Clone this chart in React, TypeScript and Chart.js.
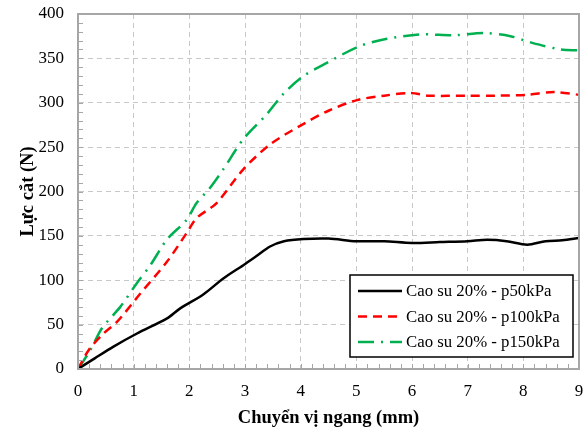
import React, { useEffect, useRef } from "react";
import { Chart, registerables } from "chart.js";

Chart.register(...registerables);

const seriesLabels = ["Cao su 20% - p50kPa", "Cao su 20% - p100kPa", "Cao su 20% - p150kPa"];

const xBlack = [0, 0.3, 0.63, 1.06, 1.6, 1.83, 2.25, 2.61, 2.97, 3.2, 3.45, 3.7, 4.05, 4.5, 5.0, 5.5, 6.0, 6.5, 7.0, 7.35, 7.7, 8.07, 8.4, 8.7, 9.0];
const yBlack = [0, 12, 25, 40, 57, 68, 84, 102, 117, 127, 138, 144, 146.5, 147, 144, 144, 142, 143, 144, 145.5, 144, 140, 144, 145, 147.5];

const xRed = [0, 0.2, 0.46, 0.7, 1.12, 1.6, 1.95, 2.13, 2.49, 2.97, 3.45, 3.99, 4.5, 5.01, 5.5, 5.97, 6.3, 7.0, 7.5, 8.07, 8.55, 9.0];
const yRed = [0, 22, 40, 53, 85, 121, 153, 170, 187, 225, 253, 274, 291, 303, 308, 311, 308, 308, 308, 309, 312, 309];

const xGreen = [0, 0.22, 0.43, 0.76, 1.06, 1.3, 1.6, 1.95, 2.13, 2.37, 2.61, 2.97, 3.39, 3.69, 4.05, 4.47, 5.07, 5.55, 6.15, 6.75, 7.29, 7.77, 8.13, 8.67, 9.0];
const yGreen = [0, 21, 46, 70, 97, 117, 146, 168, 187, 204, 225, 259, 287, 310, 330, 345, 364, 372, 377, 376, 378.5, 375, 368, 360, 359];

const xTitle = "Chuyển vị ngang (mm)";
const yTitle = "Lực cắt (N)";

const FONT = "'Liberation Serif', 'Times New Roman', serif";

const toPoints = (xs: number[], ys: number[]) => xs.map((x, i) => ({ x, y: ys[i] }));

const framePlugin = {
  id: "frameAndMinor",
  afterDatasetsDraw(chart: any) {
    const { ctx, chartArea } = chart;
    const xs = chart.scales.x;
    const ys = chart.scales.y;
    ctx.save();
    ctx.strokeStyle = "#a6a6a6";
    ctx.lineWidth = 1;
    ctx.setLineDash([]);
    ctx.beginPath();
    for (let v = 0; v <= 9.0001; v += 0.2) {
      const px = Math.round(xs.getPixelForValue(v)) + 0.5;
      ctx.moveTo(px, chartArea.bottom);
      ctx.lineTo(px, chartArea.bottom - 5);
    }
    for (let v = 0; v <= 400.0001; v += 10) {
      const py = Math.round(ys.getPixelForValue(v)) + 0.5;
      ctx.moveTo(chartArea.left, py);
      ctx.lineTo(chartArea.left + 5, py);
    }
    ctx.stroke();
    ctx.lineWidth = 2;
    ctx.strokeStyle = "#a6a6a6";
    ctx.strokeRect(chartArea.left, chartArea.top, chartArea.right - chartArea.left, chartArea.bottom - chartArea.top);
    ctx.restore();
  },
  afterDraw(chart: any) {
    const { ctx, chartArea } = chart;
    const boxW = 223;
    const boxH = 82;
    const bx = chartArea.right - 6 - boxW;
    const by = chartArea.bottom - 12 - boxH;
    ctx.save();
    ctx.fillStyle = "#ffffff";
    ctx.fillRect(bx, by, boxW, boxH);
    ctx.strokeStyle = "#000000";
    ctx.lineWidth = 1.5;
    ctx.setLineDash([]);
    ctx.strokeRect(bx, by, boxW, boxH);
    ctx.font = `16.8px ${FONT}`;
    ctx.textBaseline = "middle";
    ctx.textAlign = "left";
    chart.data.datasets.forEach((ds: any, i: number) => {
      const cy = by + 16 + i * 25.5;
      ctx.strokeStyle = ds.borderColor;
      ctx.lineWidth = ds.borderWidth;
      ctx.setLineDash(ds.borderDash || []);
      ctx.beginPath();
      ctx.moveTo(bx + 8, cy);
      ctx.lineTo(bx + 52, cy);
      ctx.stroke();
      ctx.setLineDash([]);
      ctx.fillStyle = "#000000";
      ctx.fillText(ds.label, bx + 56, cy + 1);
    });
    ctx.restore();
  },
};

export default function App() {
  const ref = useRef<HTMLCanvasElement | null>(null);
  useEffect(() => {
    document.body.style.margin = "0";
    const canvas = ref.current;
    if (!canvas) return;
    const chart = new Chart(canvas, {
      type: "line",
      data: {
        datasets: [
          {
            label: seriesLabels[0],
            data: toPoints(xBlack, yBlack),
            borderColor: "#000000",
            borderWidth: 2.5,
            pointRadius: 0,
            tension: 0.3,
            fill: false,
          },
          {
            label: seriesLabels[1],
            data: toPoints(xRed, yRed),
            borderColor: "#ff0000",
            borderWidth: 2.5,
            borderDash: [9, 6],
            pointRadius: 0,
            tension: 0.3,
            fill: false,
          },
          {
            label: seriesLabels[2],
            data: toPoints(xGreen, yGreen),
            borderColor: "#00b050",
            borderWidth: 2.5,
            borderDash: [16, 7, 2, 7],
            pointRadius: 0,
            tension: 0.3,
            fill: false,
          },
        ],
      },
      options: {
        animation: false,
        responsive: false,
        devicePixelRatio: 1,
        layout: { padding: { top: 14, right: 8, left: 0, bottom: 0 } },
        plugins: {
          legend: { display: false },
          tooltip: { enabled: false },
        },
        scales: {
          x: {
            type: "linear",
            min: 0,
            max: 9,
            afterFit(scale: any) {
              scale.height = 65;
              scale.paddingLeft = 0;
              scale.paddingRight = 0;
            },
            ticks: {
              stepSize: 1,
              padding: 12,
              color: "#000000",
              font: { family: FONT, size: 17 },
            },
            grid: {
              color: "#c8c8c8",
              drawTicks: false,
              lineWidth: 1,
            },
            border: { display: true, color: "#a6a6a6", width: 2, dash: [5, 4] },
            title: {
              display: true,
              text: xTitle,
              color: "#000000",
              font: { family: FONT, size: 18.5, weight: "bold" },
              padding: { top: 0, bottom: 5 },
            },
          },
          y: {
            type: "linear",
            min: 0,
            max: 400,
            afterFit(scale: any) {
              scale.width = 78;
              scale.paddingTop = 0;
              scale.paddingBottom = 0;
            },
            ticks: {
              stepSize: 50,
              padding: 14,
              color: "#000000",
              font: { family: FONT, size: 17 },
            },
            grid: {
              color: "#c8c8c8",
              drawTicks: false,
              lineWidth: 1,
            },
            border: { display: true, color: "#a6a6a6", width: 2, dash: [5, 4] },
            title: {
              display: true,
              text: yTitle,
              color: "#000000",
              font: { family: FONT, size: 18.5, weight: "bold" },
              padding: { top: 17, bottom: 0 },
            },
          },
        },
      },
      plugins: [framePlugin],
    });
    return () => chart.destroy();
  }, []);
  return (
    <div style={{ width: 587, height: 434 }}>
      <canvas ref={ref} width={587} height={434} style={{ display: "block", width: 587, height: 434 }} />
    </div>
  );
}
